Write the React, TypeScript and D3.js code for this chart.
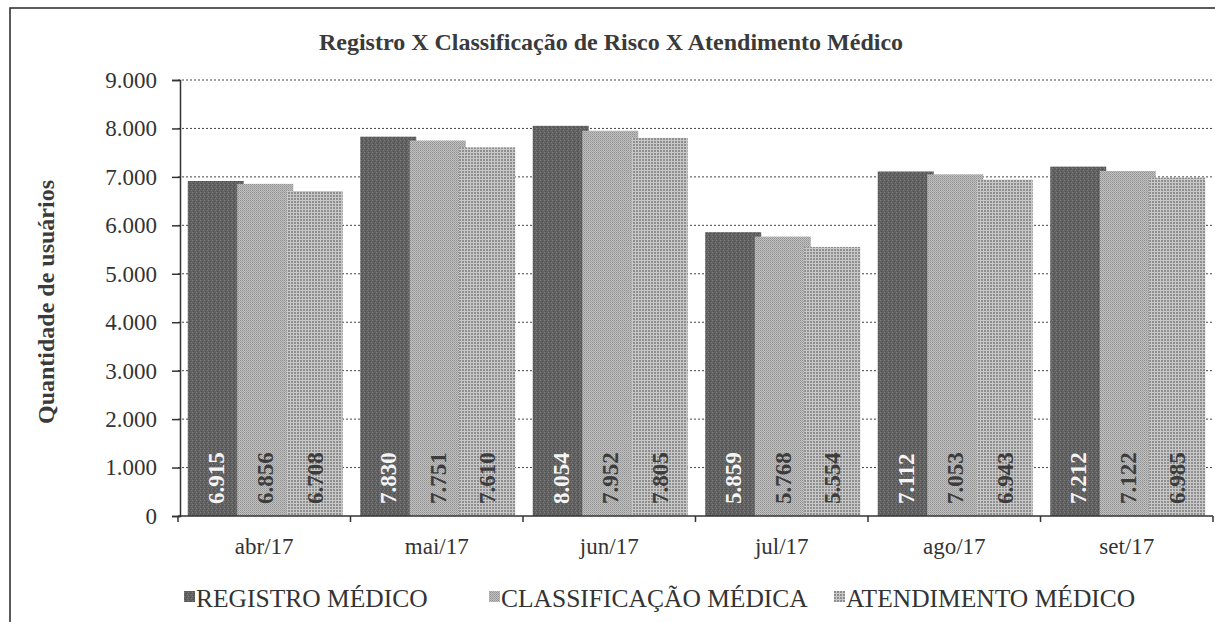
import React, { useEffect, useRef } from 'react';
import * as d3 from 'd3';

const months = ['abr/17', 'mai/17', 'jun/17', 'jul/17', 'ago/17', 'set/17'];
const registro = [6915, 7830, 8054, 5859, 7112, 7212];
const classificacao = [6856, 7751, 7952, 5768, 7053, 7122];
const atendimento = [6708, 7610, 7805, 5554, 6943, 6985];
const seriesNames = ['REGISTRO MÉDICO', 'CLASSIFICAÇÃO MÉDICA', 'ATENDIMENTO MÉDICO'];
const yTicks = [0, 1000, 2000, 3000, 4000, 5000, 6000, 7000, 8000, 9000];

const W = 1215;
const H = 622;
const FONT = '"Liberation Serif", "Times New Roman", serif';

const ptBR = d3.formatLocale({ decimal: ',', thousands: '.', grouping: [3], currency: ['R$', ''] });
const fmt = ptBR.format(',d');

export default function App() {
  const ref = useRef<SVGSVGElement>(null);

  useEffect(() => {
    const svg = d3.select(ref.current);
    svg.selectAll('*').remove();

    const left = 178, right = 1213, top = 80, bottom = 516;
    const x = d3.scaleBand<string>().domain(months).range([left, right]).padding(0);
    const y = d3.scaleLinear().domain([0, 9000]).range([bottom, top]);

    // grey scan-like fills
    const defs = svg.append('defs');
    const p1 = defs.append('pattern').attr('id', 'p1').attr('width', 4).attr('height', 4).attr('patternUnits', 'userSpaceOnUse');
    p1.append('rect').attr('width', 4).attr('height', 4).attr('fill', '#626262');
    p1.append('rect').attr('x', 0).attr('y', 0).attr('width', 1).attr('height', 1).attr('fill', '#7c7c7c');
    p1.append('rect').attr('x', 2).attr('y', 1).attr('width', 1).attr('height', 1).attr('fill', '#4c4c4c');
    p1.append('rect').attr('x', 1).attr('y', 3).attr('width', 1).attr('height', 1).attr('fill', '#505050');
    p1.append('rect').attr('x', 3).attr('y', 2).attr('width', 1).attr('height', 1).attr('fill', '#777');

    const p2 = defs.append('pattern').attr('id', 'p2').attr('width', 2).attr('height', 2).attr('patternUnits', 'userSpaceOnUse');
    p2.append('rect').attr('width', 2).attr('height', 2).attr('fill', '#c0c0c0');
    p2.append('rect').attr('width', 1).attr('height', 1).attr('fill', '#929292');
    p2.append('rect').attr('x', 1).attr('y', 1).attr('width', 1).attr('height', 1).attr('fill', '#a3a3a3');

    const p3 = defs.append('pattern').attr('id', 'p3').attr('width', 3).attr('height', 3).attr('patternUnits', 'userSpaceOnUse');
    p3.append('rect').attr('width', 3).attr('height', 3).attr('fill', '#c8c8c8');
    p3.append('rect').attr('width', 2).attr('height', 2).attr('fill', '#8f8f8f');

    const fills = ['url(#p1)', 'url(#p2)', 'url(#p3)'];

    // frame
    svg.append('rect')
      .attr('x', 10).attr('y', 8).attr('width', W + 20).attr('height', H + 20)
      .attr('fill', 'none').attr('stroke', '#333').attr('stroke-width', 1.6);

    // title
    svg.append('text')
      .attr('x', 611).attr('y', 50)
      .attr('text-anchor', 'middle')
      .attr('font-family', FONT).attr('font-weight', 'bold').attr('font-size', 24)
      .attr('fill', '#3a3a3a')
      .text('Registro X Classificação de Risco X Atendimento Médico');

    // y axis title
    svg.append('text')
      .attr('transform', 'translate(54,302) rotate(-90)')
      .attr('text-anchor', 'middle')
      .attr('font-family', FONT).attr('font-weight', 'bold').attr('font-size', 24)
      .attr('fill', '#3a3a3a')
      .text('Quantidade de usuários');

    // gridlines
    svg.append('g')
      .selectAll('line')
      .data(yTicks.filter(t => t > 0))
      .join('line')
      .attr('x1', left).attr('x2', right)
      .attr('y1', d => y(d)).attr('y2', d => y(d))
      .attr('stroke', '#444').attr('stroke-width', 1).attr('stroke-dasharray', '2,2');

    // bars
    const groupW = 155, barW = 56;
    const step = (groupW - barW) / 2;
    const offset = (x.bandwidth() - groupW) / 2 + 1;
    const series = [registro, classificacao, atendimento];

    series.forEach((vals, si) => {
      svg.append('g')
        .selectAll('rect')
        .data(vals)
        .join('rect')
        .attr('x', (d, i) => x(months[i])! + offset + si * step)
        .attr('y', d => y(d))
        .attr('width', barW)
        .attr('height', d => y(0) - y(d))
        .attr('fill', fills[si]);
    });

    // value labels
    series.forEach((vals, si) => {
      svg.append('g')
        .selectAll('text')
        .data(vals)
        .join('text')
        .attr('transform', (d, i) => {
          const cx = x(months[i])! + offset + si * step + barW / 2;
          return `translate(${cx + 8},${y(0) - 12}) rotate(-90)`;
        })
        .attr('font-family', FONT).attr('font-weight', 'bold').attr('font-size', 23)
        .attr('fill', si === 0 ? '#f4f4f4' : '#3c3c3c')
        .text(d => fmt(d));
    });

    // y axis
    const yAxis = svg.append('g')
      .attr('transform', `translate(${left + 2},0)`)
      .call(d3.axisLeft(y).tickValues(yTicks).tickSize(8).tickPadding(15).tickFormat(d => fmt(d as number)));
    yAxis.select('.domain').attr('stroke', '#333').attr('stroke-width', 1.5);
    yAxis.selectAll('.tick line').attr('stroke', '#333').attr('stroke-width', 1.5);
    yAxis.selectAll('.tick text')
      .attr('font-family', FONT).attr('font-size', 23).attr('fill', '#333');

    // x axis
    const xAxis = svg.append('g')
      .attr('transform', `translate(0,${bottom})`);
    xAxis.append('line')
      .attr('x1', left).attr('x2', right).attr('stroke', '#333').attr('stroke-width', 1.5);
    xAxis.selectAll('line.tk')
      .data([...months.map(m => x(m)!), right])
      .join('line')
      .attr('class', 'tk')
      .attr('x1', d => d).attr('x2', d => d).attr('y1', 0).attr('y2', 6)
      .attr('stroke', '#333').attr('stroke-width', 1.5);
    xAxis.selectAll('text')
      .data(months)
      .join('text')
      .attr('x', d => x(d)! + x.bandwidth() / 2)
      .attr('y', 38)
      .attr('text-anchor', 'middle')
      .attr('font-family', FONT).attr('font-size', 23).attr('fill', '#333')
      .text(d => d);

    // legend
    const legendX = [184, 489, 834];
    const lg = svg.append('g');
    seriesNames.forEach((name, i) => {
      lg.append('rect')
        .attr('x', legendX[i]).attr('y', 591).attr('width', 11).attr('height', 11)
        .attr('fill', fills[i]);
      lg.append('text')
        .attr('x', legendX[i] + 12).attr('y', 607)
        .attr('font-family', FONT).attr('font-size', 25.5).attr('fill', '#333')
        .text(name);
    });
  }, []);

  return (
    <svg ref={ref} width={W} height={H}
      style={{ position: 'absolute', left: 0, top: 0, background: '#fff' }} />
  );
}
